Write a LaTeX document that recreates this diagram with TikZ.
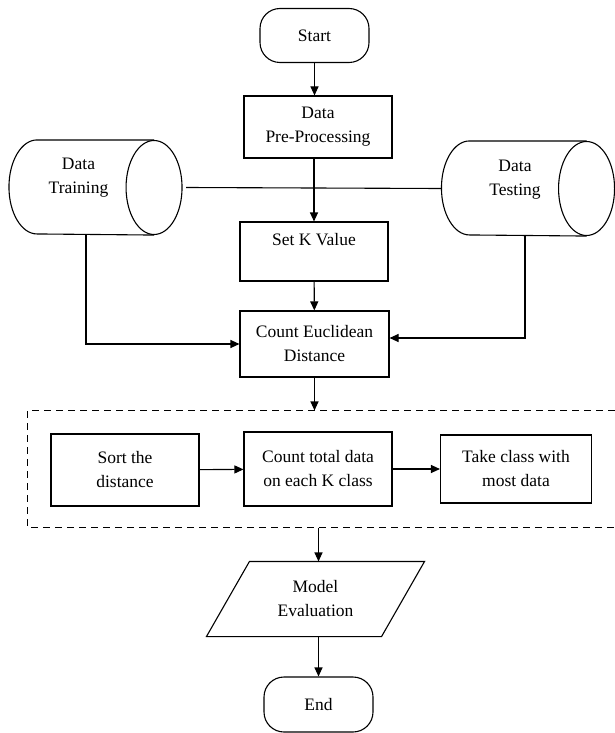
\documentclass[tikz,border=0pt]{standalone}
\usepackage{fontspec}
\setmainfont{Liberation Serif}
\usetikzlibrary{arrows.meta}

\begin{document}
\begin{tikzpicture}[x=1pt,y=-1pt,line width=1.1pt,
  every node/.style={font=\fontsize{17.5}{24}\selectfont,align=center,inner sep=0pt},
  terminal/.style={draw,rectangle,rounded corners=20pt,minimum width=109pt,minimum height=54pt},
  process/.style={draw,rectangle,minimum width=148pt},
  store/.style={rectangle,minimum width=172pt,minimum height=94pt},
  io/.style={rectangle,minimum width=174pt,minimum height=74pt},
  arrow/.style={-{Triangle[length=9pt,width=8pt]}}]
  \useasboundingbox (0,0) rectangle (614,733);
  \node[terminal] (start) at (314.5,35.5) {Start};
  \node[process,minimum height=62pt] (prep) at (318,127) {Data\\Pre-Processing};
  \node[store] (train) at (95.5,187.5) {};
  \node[store] (test) at (528,188.5) {};
  \foreach \db in {train,test}{
    \draw ([xshift=-28pt]\db.north east) -- ([xshift=28pt]\db.north west)
      arc[start angle=90,end angle=270,x radius=28pt,y radius=47pt] -- ([xshift=-28pt]\db.south east);
    \draw ([xshift=-28pt]\db.east) ellipse[x radius=28pt,y radius=47pt];
  }
  \node (train text) at ([xshift=-17pt,yshift=10pt]train) {Data\\Training};
  \node (test text) at ([xshift=-13pt,yshift=9pt]test) {Data\\Testing};
  \node[process,minimum height=59pt] (setk) at (314,251.5) {Set K Value\\~};
  \node[process,minimum width=149pt,minimum height=66pt] (dist) at (314.5,344) {Count Euclidean\\Distance};
  \node[minimum width=586pt,minimum height=116pt] (group) at (321,469) {};
  \node[process,minimum height=72pt] (sort) at (125,470) {Sort the\\distance};
  \node[process,minimum height=74pt] (total) at (318,469) {Count total data\\on each K class};
  \node[process,minimum width=151pt,minimum height=68pt] (take) at (516,469) {Take class with\\most data};
  \node[io] (eval) at (315.5,599) {Model\\Evaluation};
  \draw ([xshift=21.5pt]eval.north west) -- ([xshift=21.5pt]eval.north east)
    -- ([xshift=-21.5pt]eval.south east) -- ([xshift=-21.5pt]eval.south west) -- cycle;
  \node[terminal,minimum height=55pt] (end) at (318.5,704.5) {End};

  \draw[line width=1pt,dash pattern=on 7pt off 5pt] (group.north east) -- (group.north west) -- (group.south west) -- (group.south east);
  \draw[arrow] (start) -- (prep.north -| start);
  \draw[arrow] (prep.south -| setk) -- (setk);
  \draw ([xshift=4pt]train.east) -- (test.west);
  \draw[arrow] (setk) -- (dist);
  \draw[arrow] ([xshift=-9.5pt]train.south) |- (dist);
  \draw[arrow] ([xshift=-3pt]test.south) |- ([yshift=6pt]dist.east);
  \draw[arrow] (dist) -- (dist |- group.north);
  \draw[arrow] (sort) -- (total);
  \draw[arrow] (total) -- (take);
  \draw[arrow] (group.south -| end) -- (eval.north -| end);
  \draw[arrow] (eval.south -| end) -- (end);
\end{tikzpicture}
\end{document}
